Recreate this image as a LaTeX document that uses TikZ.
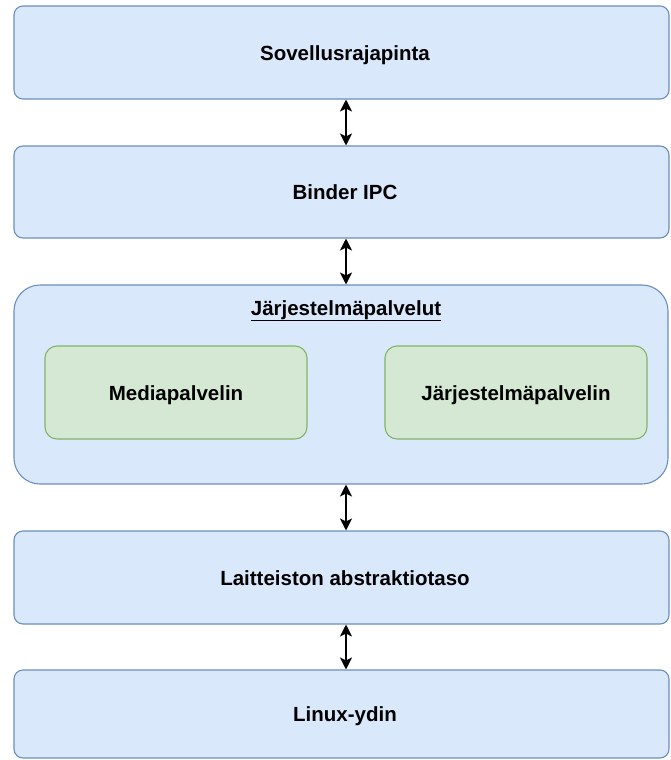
\documentclass[tikz,border=0pt]{standalone}
\usepackage{fontspec}
\setmainfont{Liberation Sans}
\usetikzlibrary{arrows.meta}
\definecolor{layerfill}{HTML}{DAE8FC}
\definecolor{layerline}{HTML}{6C8EBF}
\definecolor{svcfill}{HTML}{D5E8D4}
\definecolor{svcline}{HTML}{82B366}
\tikzset{
  layer/.style={draw=layerline, fill=layerfill, line width=1.1pt, rounded corners=9pt},
  group/.style={draw=layerline, fill=layerfill, line width=1.1pt, rounded corners=26pt},
  svc/.style={draw=svcline, fill=svcfill, line width=1.1pt, rounded corners=12pt},
  lbl/.style={font=\fontsize{20.5}{24}\selectfont\bfseries, text=black, anchor=base, inner sep=0pt},
  link/.style={line width=2.6pt, {Stealth[length=12pt,width=12pt,inset=3pt]}-{Stealth[length=12pt,width=12pt,inset=3pt]}}
}
\begin{document}
\begin{tikzpicture}[x=1pt,y=-1pt]
  \useasboundingbox (0,0) rectangle (670,760);
  % layer boxes
  \draw[layer] (14,6) rectangle (669,99);
  \node[lbl] (api) at (345,60) {Sovellusrajapinta};
  \draw[layer] (14,146) rectangle (669,238);
  \node[lbl] (binder) at (345,199.5) {Binder IPC};
  \draw[group] (14,285) rectangle (668,484);
  \node[lbl] (sys) at (346,315) {\underline{Järjestelmäpalvelut}};
  \draw[svc] (45,346) rectangle (307,439);
  \node[lbl] (media) at (176,400) {Mediapalvelin};
  \draw[svc] (385,346) rectangle (647,439);
  \node[lbl] (sysserv) at (516,400) {Järjestelmäpalvelin};
  \draw[layer] (14,531) rectangle (669,624);
  \node[lbl] (hal) at (345,585) {Laitteiston abstraktiotaso};
  \draw[layer] (14,670) rectangle (669,758);
  \node[lbl] (kernel) at (345,721.5) {Linux-ydin};
  % connector end points on the box edges
  \coordinate (a1) at (346,99.5);  \coordinate (b1) at (346,145.5);
  \coordinate (a2) at (346,238.5); \coordinate (b2) at (346,284.5);
  \coordinate (a3) at (346,484.5); \coordinate (b3) at (346,530.5);
  \coordinate (a4) at (346,624.5); \coordinate (b4) at (346,669.5);
  \draw[link] (a1) -- (b1);
  \draw[link] (a2) -- (b2);
  \draw[link] (a3) -- (b3);
  \draw[link] (a4) -- (b4);
\end{tikzpicture}
\end{document}
